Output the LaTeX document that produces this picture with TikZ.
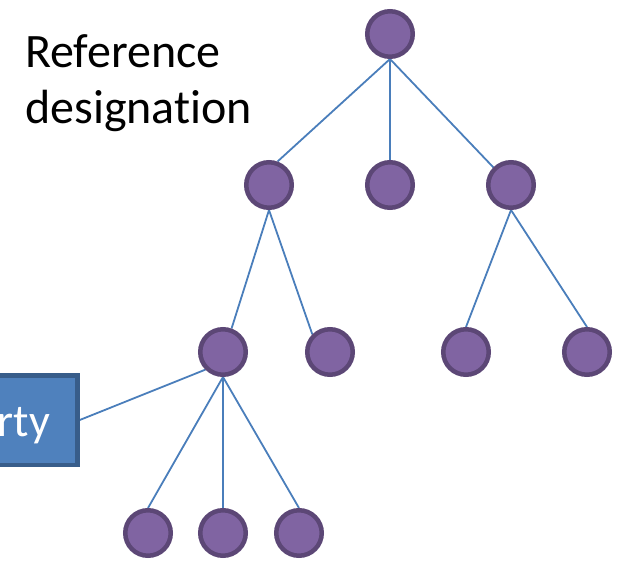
\documentclass[tikz,border=0pt]{standalone}
\usepackage{fontspec}
\setmainfont[Ligatures=NoCommon]{Carlito}
\usetikzlibrary{backgrounds}
\definecolor{vfill}{HTML}{8064A2}
\definecolor{vline}{HTML}{5C4776}
\definecolor{efill}{HTML}{4A7EBB}
\definecolor{pfill}{HTML}{4F81BD}
\definecolor{pline}{HTML}{385D8A}

\begin{document}
\begin{tikzpicture}[x=1pt,y=-1pt,
				vert/.style={circle,fill=vfill,draw=vline,line width=4.5pt,minimum size=45.5pt,inner sep=0pt},
				link/.style={draw=efill,line width=1.8pt},
				prop/.style={rectangle,fill=pfill,draw=pline,line width=4.5pt,minimum height=89.5pt,inner xsep=27.5pt,inner ysep=0pt,text height=36pt,text depth=4pt,text=white,font=\fontsize{46}{50}\selectfont}]
				\useasboundingbox (0,0) rectangle (619,565);
				\node[anchor=north west,align=left,inner sep=0pt,font=\fontsize{48}{56}\selectfont] (T) at (25,34) {Reference\\designation};
				\node[vert] (A) at (390,34) {};
				\node[vert] (B) at (269,185) {};
				\node[vert] (C) at (390,185) {};
				\node[vert] (D) at (511,185) {};
				\node[vert] (E) at (223,352) {};
				\node[vert] (F) at (330,352) {};
				\node[vert] (G) at (466,352) {};
				\node[vert] (H) at (587,352) {};
				\node[vert] (I) at (148,533) {};
				\node[vert] (J) at (223,533) {};
				\node[vert] (K) at (299,533) {};
				\node[prop,anchor=east] (P) at (79.75,420) {Property};
				\begin{scope}[on background layer]
				\draw[link] (A.south) -- (B.70);
				\draw[link] (A.south) -- (C.north);
				\draw[link] (A.south) -- (D.135);
				\draw[link] (B.south) -- (E.70);
				\draw[link] (B.south) -- (F.135);
				\draw[link] (D.south) -- (G.north);
				\draw[link] (D.south) -- (H.north);
				\draw[link] (E.south) -- (I.north);
				\draw[link] (E.south) -- (J.north);
				\draw[link] (E.south) -- (K.north);
				\draw[link] (E.225) -- (P.east);
				\end{scope}
			\end{tikzpicture}
\end{document}
